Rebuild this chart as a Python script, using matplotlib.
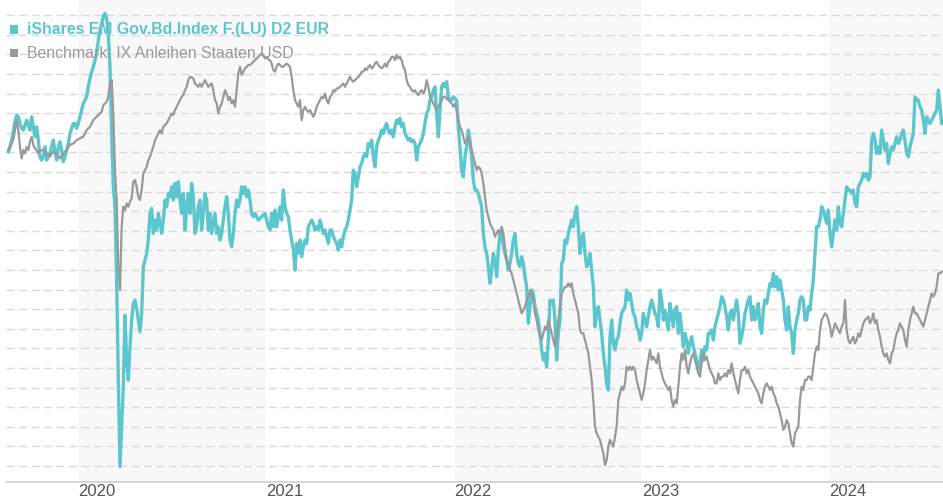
import matplotlib
matplotlib.use('Agg')
import matplotlib.pyplot as plt
from matplotlib.patches import Rectangle
import pandas as pd

# Series values (unitless index, one unit per dashed gridline),
# sampled about every 3.2 days from Aug 2019 to Aug 2024.
FUND_NAME = 'iShares EM Gov.Bd.Index F.(LU) D2 EUR'
BENCH_NAME = 'Benchmark: IX Anleihen Staaten USD'
START, END = '2019-08-19', '2024-08-06'
YEARS = [2020, 2021, 2022, 2023, 2024]
SHADED_YEARS = [2020, 2022, 2024]

fund = [
    # 2019-08 .. 2020-04
    16.04, 16.29, 16.63, 17.06, 17.57, 17.91, 17.82, 17.48, 17.23, 17.14,
    17.40, 17.65, 17.40, 17.14, 17.82, 17.31, 16.80, 17.31, 16.63, 15.78,
    15.61, 15.78, 16.29, 15.61, 15.87, 15.95, 16.29, 16.63, 16.04, 15.61,
    16.29, 16.55, 16.12, 15.53, 15.78, 16.12, 16.46, 16.97, 17.23, 17.48,
    17.48, 17.23, 17.48, 17.82, 18.16, 18.50, 18.67, 18.84, 19.35, 19.78,
    20.12, 20.37, 20.71, 21.05, 21.73, 22.24, 22.59, 22.93, 23.10, 22.84,
    22.07, 20.37, 16.97, 14.25, 13.23, 9.49, 4.39, -0.03, 2.01, 4.05,
    7.70, 5.41, 4.39, 6.09, 7.45, 8.30,
    # 2020-04 .. 2021-01
    8.47, 8.04, 7.45, 6.85, 7.79, 10.17, 10.51, 10.85, 11.53, 12.89,
    13.15, 11.87, 12.55, 12.04, 12.89, 12.47, 11.87, 12.55, 13.57, 13.23,
    13.91, 13.74, 14.25, 13.57, 14.42, 13.74, 14.51, 13.57, 12.89, 13.91,
    12.04, 13.23, 13.91, 12.89, 14.42, 13.74, 11.87, 12.21, 13.23, 13.57,
    12.04, 12.89, 13.91, 13.57, 12.04, 12.89, 11.87, 12.38, 12.89, 11.87,
    12.21, 11.53, 11.87, 12.55, 13.23, 13.74, 12.89, 11.53, 11.19, 11.87,
    12.89, 13.57, 13.23, 13.57, 14.25, 13.91, 14.25, 13.74, 14.08, 13.57,
    12.89, 12.72, 12.89, 12.72, 12.55, 12.64, 12.72, 12.81, 12.89, 12.55,
    12.21,
    # 2021-01 .. 2021-09
    12.04, 12.89, 12.21, 13.06, 12.21, 12.72, 13.23, 12.55, 14.08, 13.23,
    12.89, 12.72, 12.04, 11.53, 11.02, 10.00, 11.36, 10.85, 11.53, 10.68,
    11.19, 11.53, 11.36, 12.21, 12.38, 12.55, 12.38, 12.04, 12.21, 12.04,
    12.55, 12.21, 11.87, 12.04, 11.70, 11.36, 12.04, 12.04, 11.70, 11.53,
    11.36, 11.02, 11.53, 11.19, 11.70, 12.04, 12.21, 12.55, 13.06, 13.57,
    15.10, 14.93, 14.25, 14.76, 15.27, 15.44, 15.78, 15.95, 15.78, 16.46,
    16.29, 16.63, 15.78, 15.27, 16.29, 16.63, 16.80, 17.14, 16.97, 17.31,
    17.48, 17.14, 16.97, 17.14, 16.80, 17.31, 17.65, 17.48, 17.74, 17.31,
    17.48,
    # 2021-09 .. 2022-06
    16.97, 16.80, 16.63, 16.72, 16.55, 16.63, 16.46, 15.61, 16.29, 16.46,
    16.63, 16.97, 17.48, 17.99, 18.16, 18.67, 18.84, 19.18, 19.35, 17.99,
    16.80, 18.16, 19.35, 19.52, 19.35, 19.61, 18.84, 18.67, 18.67, 18.84,
    18.76, 18.67, 17.31, 16.29, 15.10, 14.76, 15.78, 16.29, 17.14, 16.63,
    15.78, 14.59, 14.08, 14.08, 13.91, 13.57, 13.23, 11.87, 11.19, 10.85,
    10.17, 9.32, 10.00, 10.85, 10.51, 9.66, 11.02, 11.87, 12.04, 11.19,
    10.85, 10.51, 10.00, 10.34, 10.85, 11.53, 11.87, 10.85, 10.34, 10.17,
    10.68, 10.34, 9.66, 9.15, 7.28, 8.13, 8.98, 8.81, 8.13, 7.79,
    7.45,
    # 2022-06 .. 2023-03
    6.77, 5.92, 5.41, 5.75, 5.07, 6.43, 8.47, 8.30, 8.47, 7.45,
    5.41, 6.77, 7.45, 10.34, 10.51, 11.53, 11.36, 11.87, 12.21, 12.55,
    12.21, 12.89, 13.23, 12.21, 10.85, 11.53, 11.87, 10.85, 10.17, 10.34,
    10.85, 10.00, 9.15, 7.11, 7.79, 8.13, 7.45, 6.77, 5.75, 5.07,
    4.22, 3.88, 6.60, 7.45, 6.26, 5.92, 6.43, 6.60, 7.28, 7.79,
    7.96, 8.13, 8.98, 8.47, 8.81, 8.30, 7.79, 7.62, 7.11, 6.94,
    6.43, 6.77, 7.79, 7.45, 7.11, 7.62, 8.13, 8.47, 8.13, 7.79,
    7.62, 7.11, 8.98, 8.47, 7.45, 7.96, 7.45, 6.94, 8.30, 7.79,
    7.11,
    # 2023-03 .. 2023-11
    7.96, 8.13, 6.77, 7.79, 6.94, 6.09, 6.77, 6.43, 5.75, 6.26,
    6.60, 6.09, 5.75, 5.41, 4.90, 5.24, 5.92, 5.41, 6.09, 5.92,
    6.77, 6.77, 6.94, 6.43, 7.11, 7.45, 7.79, 8.13, 8.64, 8.47,
    8.13, 7.62, 6.94, 7.79, 7.96, 7.45, 7.96, 8.47, 7.79, 6.26,
    6.60, 7.11, 7.79, 8.13, 8.47, 8.64, 7.45, 8.13, 7.45, 7.79,
    8.30, 7.11, 6.77, 7.96, 8.47, 8.30, 8.81, 9.32, 9.15, 9.83,
    9.15, 9.66, 8.98, 9.49, 8.98, 8.47, 7.45, 6.94, 8.13, 7.11,
    6.77, 5.75, 6.94, 7.45, 7.79, 8.47, 8.64, 8.47, 7.45, 7.45,
    8.13,
    # 2023-11 .. 2024-08
    7.96, 8.81, 9.49, 10.85, 12.21, 12.21, 12.55, 13.23, 13.06, 12.72,
    12.38, 13.06, 11.87, 11.19, 11.87, 12.55, 12.04, 13.23, 12.38, 12.21,
    12.89, 13.57, 14.25, 14.08, 14.08, 13.91, 14.08, 13.40, 13.23, 14.25,
    14.42, 14.59, 14.93, 14.76, 14.93, 14.59, 14.76, 16.63, 16.97, 16.63,
    15.95, 16.29, 15.95, 17.14, 16.63, 16.12, 16.46, 15.44, 15.95, 16.29,
    16.12, 16.46, 16.80, 16.46, 16.63, 16.97, 17.14, 16.63, 15.95, 15.78,
    16.29, 16.63, 16.97, 18.84, 18.67, 18.67, 18.33, 18.16, 17.65, 16.97,
    17.82, 17.65, 17.48, 17.65, 17.82, 17.99, 18.16, 19.18, 18.33, 17.48,
]

bench = [
    # 2019-08 .. 2020-04
    16.12, 16.29, 16.46, 16.63, 17.14, 17.65, 17.14, 16.29, 15.70, 16.12,
    15.95, 16.29, 16.12, 16.55, 16.80, 16.38, 16.21, 16.12, 15.95, 16.04,
    16.12, 16.12, 16.04, 15.95, 15.87, 15.78, 15.95, 16.04, 15.95, 15.95,
    15.78, 15.70, 15.87, 15.95, 16.04, 16.12, 16.29, 16.38, 16.43, 16.46,
    16.55, 16.63, 16.68, 16.72, 16.77, 16.80, 16.97, 17.14, 17.23, 17.31,
    17.48, 17.65, 17.74, 17.82, 17.91, 17.99, 18.08, 18.42, 18.50, 18.59,
    18.84, 19.52, 19.69, 17.99, 15.10, 13.57, 10.17, 8.98, 12.21, 13.23,
    13.06, 13.40, 13.23, 13.49, 13.66, 14.51,
    # 2020-04 .. 2021-01
    14.59, 14.25, 13.74, 13.57, 14.08, 14.93, 15.10, 15.27, 15.61, 15.78,
    16.04, 16.29, 16.63, 16.80, 16.97, 17.14, 16.97, 17.31, 17.40, 17.48,
    17.65, 17.82, 17.99, 17.91, 18.16, 18.33, 18.50, 18.67, 18.84, 18.93,
    19.18, 19.35, 19.69, 19.86, 19.83, 19.78, 19.52, 19.44, 19.35, 19.52,
    19.35, 19.52, 19.69, 19.52, 19.35, 19.44, 19.52, 19.18, 18.67, 18.50,
    17.99, 18.33, 18.50, 18.84, 19.18, 19.01, 18.67, 18.84, 18.50, 18.67,
    18.33, 19.18, 20.03, 20.37, 19.95, 20.12, 20.29, 20.37, 20.46, 20.46,
    20.54, 20.63, 20.71, 20.80, 20.88, 20.97, 21.05, 20.97, 20.80, 20.88,
    20.75,
    # 2021-01 .. 2021-09
    20.71, 20.54, 20.20, 20.12, 20.37, 20.54, 20.46, 20.37, 20.37, 20.46,
    20.54, 20.46, 20.37, 19.86, 19.18, 18.67, 18.50, 18.33, 18.67, 17.65,
    18.16, 18.33, 18.16, 18.08, 18.16, 17.99, 17.82, 17.99, 18.33, 18.50,
    18.67, 18.84, 18.76, 19.01, 18.67, 18.50, 18.84, 18.93, 19.18, 19.10,
    19.27, 19.27, 19.35, 19.44, 19.52, 19.35, 19.52, 19.69, 19.86, 19.69,
    19.61, 19.69, 19.78, 19.86, 19.95, 20.12, 20.12, 20.29, 20.20, 20.37,
    20.46, 20.29, 20.37, 20.54, 20.63, 20.46, 20.37, 20.29, 20.37, 20.54,
    20.37, 20.63, 20.71, 20.88, 20.88, 20.71, 20.97, 20.80, 20.88, 20.71,
    20.37,
    # 2021-09 .. 2022-06
    20.20, 19.69, 19.44, 19.35, 19.18, 19.10, 19.18, 19.01, 18.93, 19.10,
    19.18, 19.01, 19.18, 19.69, 19.35, 18.84, 18.67, 18.50, 18.33, 18.16,
    18.33, 18.50, 18.67, 18.84, 18.84, 18.76, 18.67, 18.59, 18.50, 18.33,
    18.50, 18.16, 17.65, 17.31, 17.14, 16.80, 16.46, 16.63, 16.80, 16.46,
    16.12, 15.78, 15.44, 15.10, 15.27, 15.19, 14.93, 14.42, 13.74, 13.06,
    12.72, 12.38, 12.21, 12.04, 11.70, 11.87, 12.04, 11.87, 12.21, 11.87,
    11.19, 10.51, 10.34, 10.00, 9.83, 9.49, 9.15, 8.81, 8.47, 8.13,
    7.79, 7.96, 8.13, 8.47, 8.64, 8.98, 8.81, 8.47, 7.79, 7.45,
    6.94,
    # 2022-06 .. 2023-03
    6.60, 6.43, 6.77, 7.11, 6.94, 7.45, 7.11, 6.77, 6.43, 6.09,
    6.60, 7.45, 8.13, 8.81, 8.98, 9.15, 9.15, 9.32, 9.15, 9.32,
    8.81, 8.47, 8.13, 7.79, 6.94, 6.77, 6.77, 6.43, 6.09, 5.75,
    5.07, 4.39, 3.37, 2.01, 1.67, 1.50, 1.33, 0.99, 0.65, 0.05,
    0.31, 0.99, 1.33, 1.16, 0.99, 1.50, 2.01, 3.37, 3.71, 4.05,
    3.88, 4.22, 5.07, 4.90, 5.07, 4.90, 5.07, 4.90, 4.39, 4.05,
    3.71, 3.37, 3.71, 4.22, 4.90, 5.41, 5.92, 5.41, 5.58, 5.41,
    5.24, 5.75, 5.07, 4.73, 4.39, 4.22, 4.05, 3.88, 4.05, 3.37,
    3.03,
    # 2023-03 .. 2023-11
    3.37, 3.20, 4.05, 5.07, 5.75, 5.41, 5.92, 5.07, 4.73, 5.24,
    5.58, 5.75, 5.41, 5.07, 4.73, 4.56, 5.24, 5.75, 5.41, 5.58,
    5.24, 4.90, 4.73, 4.56, 4.22, 4.22, 4.73, 4.39, 4.56, 4.56,
    4.73, 4.56, 4.90, 4.73, 5.24, 4.73, 4.39, 4.05, 3.71, 4.39,
    4.90, 4.90, 5.07, 4.73, 4.90, 4.56, 4.39, 4.22, 4.05, 3.88,
    3.71, 3.37, 3.20, 3.71, 4.05, 4.22, 4.05, 3.88, 4.05, 3.71,
    3.54, 3.20, 3.03, 2.69, 2.35, 1.84, 2.01, 2.35, 2.18, 1.67,
    1.16, 0.99, 1.67, 1.84, 2.01, 3.37, 4.05, 3.88, 4.39, 4.39,
    4.56,
    # 2023-11 .. 2024-08
    4.56, 4.39, 5.07, 5.75, 6.09, 5.92, 6.94, 7.45, 7.62, 7.79,
    7.70, 7.45, 7.11, 6.60, 6.94, 7.28, 7.11, 6.94, 6.77, 7.11,
    7.28, 8.47, 6.94, 6.43, 6.26, 6.43, 6.60, 6.26, 6.43, 6.77,
    6.60, 6.94, 7.28, 7.45, 7.53, 7.62, 7.28, 7.45, 7.79, 7.28,
    7.45, 6.94, 6.60, 6.09, 5.75, 5.58, 5.75, 5.41, 5.24, 5.75,
    5.92, 6.43, 6.77, 6.94, 7.28, 7.11, 6.94, 6.43, 6.09, 6.94,
    7.45, 7.79, 8.13, 7.79, 7.79, 7.62, 7.45, 7.28, 7.11, 7.45,
    7.79, 8.13, 8.47, 8.81, 8.64, 8.81, 9.15, 9.83, 9.83, 9.91,
]

TEAL = '#5cc6ce'
GREY = '#999999'

dates = pd.date_range(START, END, periods=len(fund))
bdates = pd.date_range(START, END, periods=len(bench))

W, H = 943, 500
fig = plt.figure(figsize=(W / 100, H / 100), dpi=100)
ax = fig.add_axes([6 / W, 18.3 / H, 937 / W, 481.7 / H])

for yr in SHADED_YEARS:
    ax.axvspan(pd.Timestamp(f'{yr}-01-01'), pd.Timestamp(f'{yr + 1}-01-01'),
               color='#f8f8f8', lw=0, zorder=0)

ax.plot(dates, fund, color=TEAL, lw=2.4, zorder=3, solid_joinstyle='round')
ax.plot(bdates, bench, color=GREY, lw=1.6, zorder=4, solid_joinstyle='round')

ax.set_xlim(dates[0] - pd.Timedelta(days=4.5), dates[-1] + pd.Timedelta(days=2.6))
ax.set_ylim(-0.80, 23.78)

ax.set_yticks(range(24))
ax.yaxis.grid(True, color='#dadada', lw=1.0, linestyle=(0, (5.8, 3.2)))
ax.set_axisbelow(True)
ax.tick_params(axis='y', length=0, labelleft=False)

ax.set_xticks([pd.Timestamp(f'{y}-01-01') for y in YEARS])
ax.set_xticklabels([str(y) for y in YEARS], ha='left', color='#555555',
                   fontsize=12, family=['Liberation Sans Narrow', 'Liberation Sans'])
ax.tick_params(axis='x', length=0, pad=1.5)

for s in ('left', 'right', 'top'):
    ax.spines[s].set_visible(False)
ax.spines['bottom'].set_color('#d0d0d0')
ax.spines['bottom'].set_linewidth(1.2)

# legend, top left
for row, (name, col, weight) in enumerate([(FUND_NAME, TEAL, 'bold'),
                                           (BENCH_NAME, GREY, 'normal')]):
    yc = 29.5 + row * 23.5
    fig.add_artist(Rectangle((10 / W, 1 - (yc + 4) / H), 8 / W, 8 / H,
                             transform=fig.transFigure, color=col, lw=0, zorder=6))
    fig.text(27 / W, 1 - yc / H, name, color=col, fontsize=11.4, fontweight=weight,
             family='Liberation Sans', va='center', ha='left', zorder=6)

fig.savefig('out.png', dpi=100)
